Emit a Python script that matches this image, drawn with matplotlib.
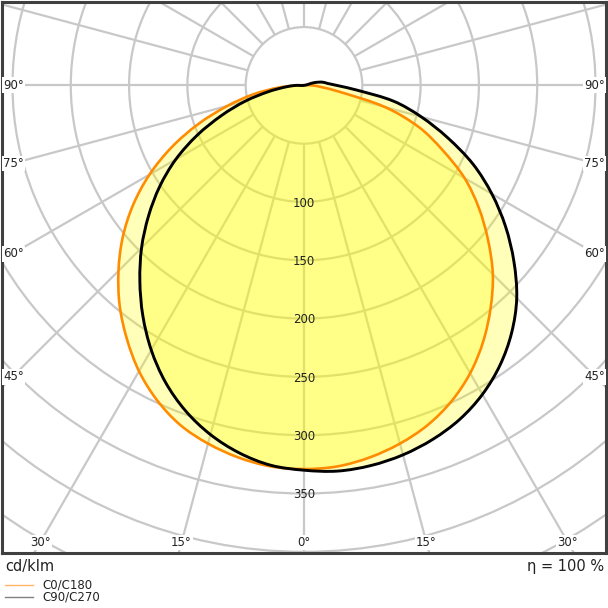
import numpy as np
import matplotlib.pyplot as plt
from matplotlib.patches import Circle, PathPatch
from matplotlib.path import Path
from matplotlib.lines import Line2D

# luminous intensity (cd/klm), every 5 degrees
gamma_c0 = [0, 5, 10, 15, 20, 25, 30, 35, 40, 45, 50, 55, 60, 65, 70, 75, 80, 85, 90]
orange_c0 = [329, 328, 324, 318, 310, 299, 285, 268, 249, 229, 206, 183, 159, 131, 105, 72, 30, 14, 7]
orange_c180 = [329, 328, 324, 318, 310, 298, 283, 265, 246, 225, 203, 179, 153, 125, 96, 68, 44, 22, 5]

gamma_c90 = [0, 5, 10, 15, 20, 25, 30, 35, 40, 45, 50, 55, 60, 65, 70, 75, 80, 85, 90, 95, 100, 105, 110]
black_c90 = [331, 332, 331, 328, 323, 316, 306, 293, 277, 258, 235, 211, 186, 160, 131, 104, 78, 45, 28, 20, 16, 9, 0]
gamma_c270 = [0, 5, 10, 15, 20, 25, 30, 35, 40, 45, 50, 55, 60, 65, 70, 75, 80, 85, 90]
black_c270 = [330, 327, 320, 310, 297, 281, 262, 241, 219, 197, 174, 151, 127, 101, 75, 52, 31, 16, 7]

ring_values = [100, 150, 200, 250, 300, 350]
side_angles = [45, 60, 75, 90]
bottom_angles = [0, 15, 30]


def polar_xy(gam, inten, side):
    g = np.radians(np.asarray(gam, dtype=float))
    r = np.asarray(inten, dtype=float)
    return side * r * np.sin(g), -r * np.cos(g)


def unit(v):
    n = np.hypot(v[0], v[1])
    return v / n if n > 0 else v


def curve_path(g_left, i_left, g_right, i_right):
    xl, yl = polar_xy(g_left, i_left, -1)
    xr, yr = polar_xy(g_right, i_right, 1)
    pts = np.column_stack([np.concatenate([xl[::-1], xr[1:]]),
                           np.concatenate([yl[::-1], yr[1:]])])
    # closed smooth bezier path through the read points
    n = len(pts)
    verts = [pts[0]]
    codes = [Path.MOVETO]
    for i in range(n):
        p0, p1, p2, p3 = pts[i - 1], pts[i], pts[(i + 1) % n], pts[(i + 2) % n]
        d = np.hypot(*(p2 - p1)) / 3
        verts += [p1 + unit(p2 - p0) * d, p2 - unit(p3 - p1) * d, p2]
        codes += [Path.CURVE4] * 3
    verts.append(pts[0])
    codes.append(Path.CLOSEPOLY)
    return Path(verts, codes)


fig = plt.figure(figsize=(6.08, 6.08), dpi=100)
ax = fig.add_axes([2 / 608, 55 / 608, 604 / 608, 604 / 608 - 53 / 608])
x0, x1 = -259, 259
y0, y1 = -401, 71.5
ax.set_xlim(x0, x1)
ax.set_ylim(y0, y1)
ax.set_xticks([])
ax.set_yticks([])
for sp in ax.spines.values():
    sp.set_color('#404040')
    sp.set_linewidth(2.2)

grid_col = '#c8c8c8'
# circles every 50 cd
for rv in range(50, 551, 50):
    ax.add_patch(Circle((0, 0), rv, fill=False, ec=grid_col, lw=1.6, zorder=1))
# radial lines every 15 deg, starting at the 50 cd circle
for a in range(0, 360, 15):
    t = np.radians(a)
    ax.plot([50 * np.sin(t), 700 * np.sin(t)], [-50 * np.cos(t), -700 * np.cos(t)],
            color=grid_col, lw=1.6, zorder=1, solid_capstyle='butt')

orange_path = curve_path(gamma_c0, orange_c180, gamma_c0, orange_c0)
black_path = curve_path(gamma_c270, black_c270, gamma_c90, black_c90)

for p in (orange_path, black_path):
    ax.add_patch(PathPatch(p, fc='#ffff00', alpha=0.27, lw=0, zorder=2))
ax.add_patch(PathPatch(orange_path, fill=False, ec='#ff8c00', lw=1.9, zorder=3))
ax.add_patch(PathPatch(black_path, fill=False, ec='black', lw=2.1, zorder=3))

for rv in ring_values:
    ax.text(0, -rv - 1, str(rv), ha='center', va='center', fontsize=8.5, color='#222222', zorder=4)

lab_box = dict(facecolor='white', edgecolor='none', pad=1.0)
for a in side_angles:
    t = np.radians(a)
    yy = -250 / np.tan(t) if a != 90 else 0
    ax.text(x0 + 1, yy, '%d°' % a, ha='left', va='center', fontsize=8.5, color='#222222',
            bbox=lab_box, zorder=5)
    ax.text(x1 - 1, yy, '%d°' % a, ha='right', va='center', fontsize=8.5, color='#222222',
            bbox=lab_box, zorder=5)
for a in bottom_angles:
    xx = 392 * np.tan(np.radians(a))
    for s in ([1] if a == 0 else [-1, 1]):
        ax.text(s * xx, -392, '%d°' % a, ha='center', va='center', fontsize=8.5, color='#222222',
                bbox=lab_box, zorder=5)

fig.text(5 / 608, 1 - 566 / 608, 'cd/klm', ha='left', va='center', fontsize=10.5, color='#222222')
fig.text(604 / 608, 1 - 566 / 608, 'η = 100 %', ha='right', va='center', fontsize=10.5, color='#222222')

fig.add_artist(Line2D([5 / 608, 33 / 608], [1 - 585 / 608] * 2, color='#ffb566', lw=1.0, transform=fig.transFigure))
fig.add_artist(Line2D([5 / 608, 33 / 608], [1 - 597 / 608] * 2, color='#808080', lw=1.0, transform=fig.transFigure))
fig.text(42 / 608, 1 - 585 / 608, 'C0/C180', ha='left', va='center', fontsize=8.5, color='#222222')
fig.text(42 / 608, 1 - 597 / 608, 'C90/C270', ha='left', va='center', fontsize=8.5, color='#222222')

fig.savefig('out.png', dpi=100, facecolor='white')
